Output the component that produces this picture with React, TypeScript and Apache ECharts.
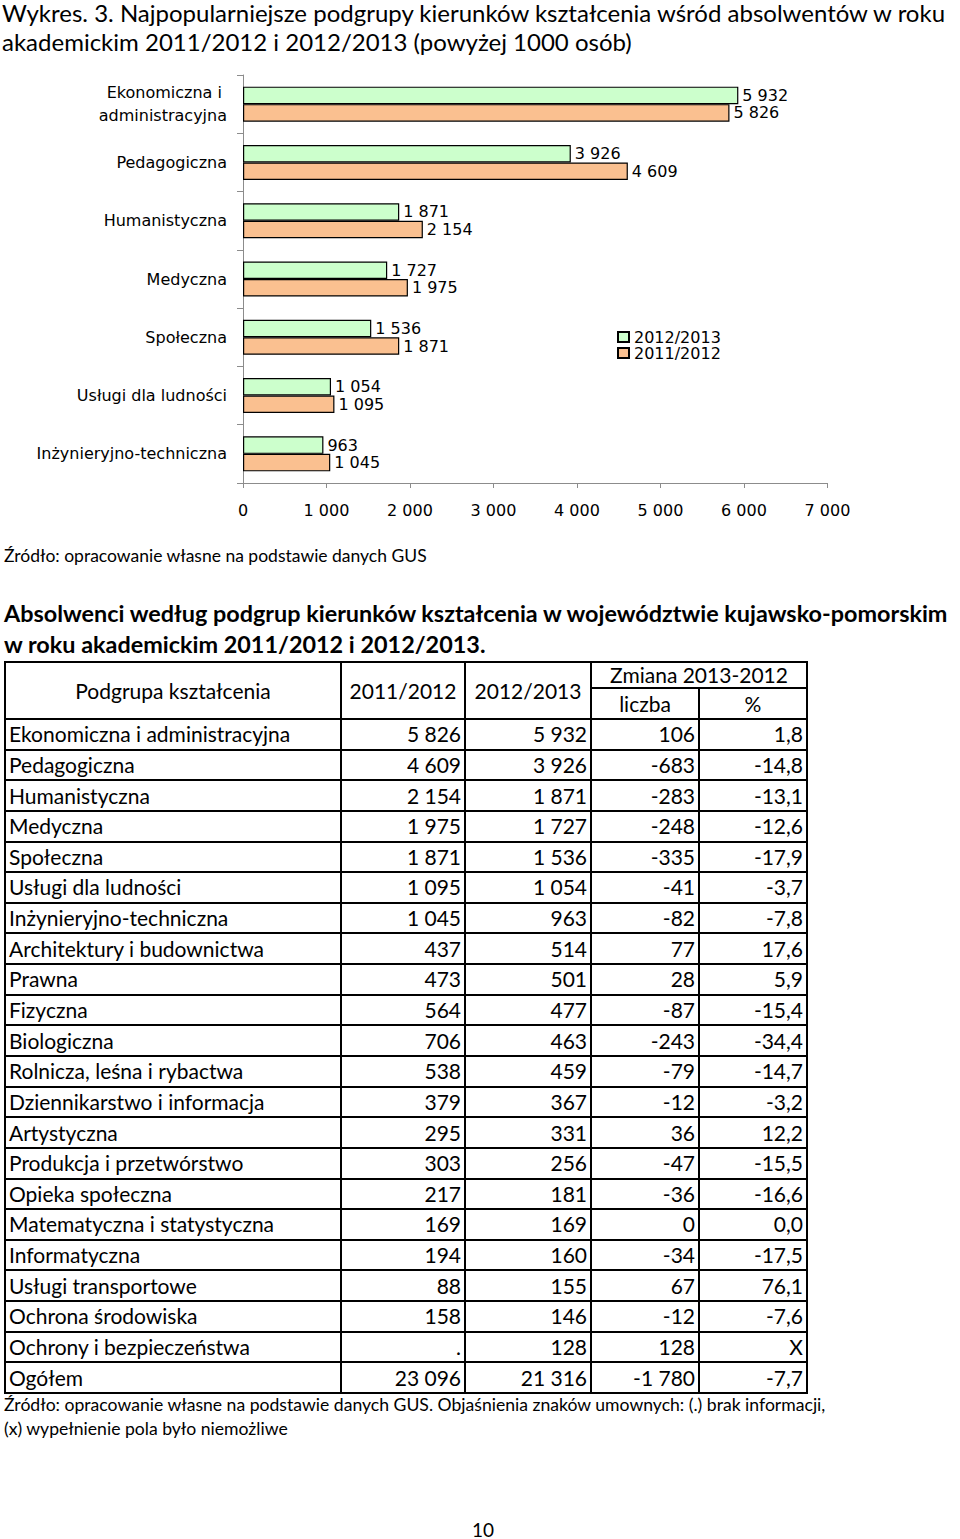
import React, { useEffect, useRef } from "react";
import * as echarts from "echarts";

// ---- chart data ----
const chartCategories = [
  "Ekonomiczna i administracyjna",
  "Pedagogiczna",
  "Humanistyczna",
  "Medyczna",
  "Społeczna",
  "Usługi dla ludności",
  "Inżynieryjno-techniczna",
];
const values2012_2013 = [5932, 3926, 1871, 1727, 1536, 1054, 963];
const values2011_2012 = [5826, 4609, 2154, 1975, 1871, 1095, 1045];
const seriesNames = ["2012/2013", "2011/2012"];
const xTicks = [0, 1000, 2000, 3000, 4000, 5000, 6000, 7000];

// ---- table data ----
const tableGroups = [
  "Ekonomiczna i administracyjna",
  "Pedagogiczna",
  "Humanistyczna",
  "Medyczna",
  "Społeczna",
  "Usługi dla ludności",
  "Inżynieryjno-techniczna",
  "Architektury i budownictwa",
  "Prawna",
  "Fizyczna",
  "Biologiczna",
  "Rolnicza, leśna i rybactwa",
  "Dziennikarstwo i informacja",
  "Artystyczna",
  "Produkcja i przetwórstwo",
  "Opieka społeczna",
  "Matematyczna i statystyczna",
  "Informatyczna",
  "Usługi transportowe",
  "Ochrona środowiska",
  "Ochrony i bezpieczeństwa",
  "Ogółem",
];
const table2011_2012 = ["5 826", "4 609", "2 154", "1 975", "1 871", "1 095", "1 045", "437", "473", "564", "706", "538", "379", "295", "303", "217", "169", "194", "88", "158", ".", "23 096"];
const table2012_2013 = ["5 932", "3 926", "1 871", "1 727", "1 536", "1 054", "963", "514", "501", "477", "463", "459", "367", "331", "256", "181", "169", "160", "155", "146", "128", "21 316"];
const tableChange = ["106", "-683", "-283", "-248", "-335", "-41", "-82", "77", "28", "-87", "-243", "-79", "-12", "36", "-47", "-36", "0", "-34", "67", "-12", "128", "-1 780"];
const tablePct = ["1,8", "-14,8", "-13,1", "-12,6", "-17,9", "-3,7", "-7,8", "17,6", "5,9", "-15,4", "-34,4", "-14,7", "-3,2", "12,2", "-15,5", "-16,6", "0,0", "-17,5", "76,1", "-7,6", "X", "-7,7"];

const fmt = (v: number) => String(v).replace(/\B(?=(\d{3})+(?!\d))/g, " ");

const CHART_FONT = "'DejaVu Sans', Verdana, sans-serif";
const TEXT_FONT = "Lato, 'Noto Sans', sans-serif";

function Chart() {
  const ref = useRef<HTMLDivElement>(null);
  useEffect(() => {
    if (!ref.current) return;
    const chart = echarts.init(ref.current, undefined, { renderer: "svg" });
    const labelStyle = {
      show: true,
      position: "right" as const,
      distance: 4,
      color: "#000",
      fontFamily: CHART_FONT,
      fontSize: 16,
      formatter: (p: any) => fmt(p.value),
    };
    chart.setOption({
      animation: false,
      backgroundColor: "#fff",
      grid: {
        left: 243,
        top: 15,
        width: 584.5,
        height: 408,
        containLabel: false,
        outerBoundsMode: "none",
      },
      legend: {
        orient: "vertical",
        left: 612,
        top: 264,
        itemWidth: 11,
        itemHeight: 10,
        itemGap: 0,
        icon: "rect",
        data: seriesNames,
        textStyle: { color: "#000", fontFamily: CHART_FONT, fontSize: 16 },
      },
      xAxis: {
        type: "value",
        min: xTicks[0],
        max: xTicks[xTicks.length - 1],
        interval: 1000,
        axisLine: { show: true, lineStyle: { color: "#8c8c8c", width: 1 } },
        axisTick: { show: true, length: 5, lineStyle: { color: "#8c8c8c" } },
        splitLine: { show: false },
        axisLabel: {
          margin: 19,
          color: "#000",
          fontFamily: CHART_FONT,
          fontSize: 16,
          formatter: (v: number) => fmt(v),
        },
      },
      yAxis: {
        type: "category",
        inverse: true,
        data: chartCategories,
        axisLine: { show: true, lineStyle: { color: "#8c8c8c", width: 1 } },
        axisTick: { show: true, length: 6, lineStyle: { color: "#8c8c8c" } },
        axisLabel: {
          margin: 16,
          color: "#000",
          fontFamily: CHART_FONT,
          fontSize: 16,
          lineHeight: 23,
          width: 220,
          overflow: "break",
          align: "right",
        },
      },
      series: [
        {
          name: seriesNames[0],
          type: "bar",
          data: values2012_2013,
          barCategoryGap: "40%",
          barGap: "0%",
          itemStyle: { color: "#CCFFCC", borderColor: "#000", borderWidth: 1.2 },
          label: labelStyle,
        },
        {
          name: seriesNames[1],
          type: "bar",
          data: values2011_2012,
          barCategoryGap: "40%",
          barGap: "0%",
          itemStyle: { color: "#FAC090", borderColor: "#000", borderWidth: 1.2 },
          label: labelStyle,
        },
      ],
    });
    return () => chart.dispose();
  }, []);
  return <div ref={ref} style={{ position: "absolute", left: 0, top: 60, width: 960, height: 480 }} />;
}

const colX = [4, 340, 464, 590, 698, 806];
const HEADER_TOP = 661;
const HEADER_MID = 687;
const BODY_TOP = 718;
const ROW_H = (1392 - 718) / 22;

function Cell(props: { x0: number; x1: number; y0: number; y1: number; align: "left" | "right" | "center"; text: string }) {
  const { x0, x1, y0, y1, align, text } = props;
  return (
    <div
      style={{
        position: "absolute",
        left: x0,
        top: y0,
        width: x1 - x0,
        height: y1 - y0,
        borderLeft: "2px solid #000",
        borderTop: "2px solid #000",
        boxSizing: "border-box",
        display: "flex",
        alignItems: "center",
        justifyContent: align === "left" ? "flex-start" : align === "right" ? "flex-end" : "center",
        padding: align === "left" ? "0 0 0 3px" : align === "right" ? "0 3px 0 0" : 0,
        fontFamily: TEXT_FONT,
        fontSize: 21,
        lineHeight: "26px",
        color: "#000",
        whiteSpace: "nowrap",
      }}
    >
      {text}
    </div>
  );
}

function DataTable() {
  const cells: React.ReactNode[] = [];
  cells.push(<Cell key="h0" x0={colX[0]} x1={colX[1]} y0={HEADER_TOP} y1={BODY_TOP} align="center" text="Podgrupa kształcenia" />);
  cells.push(<Cell key="h1" x0={colX[1]} x1={colX[2]} y0={HEADER_TOP} y1={BODY_TOP} align="center" text="2011/2012" />);
  cells.push(<Cell key="h2" x0={colX[2]} x1={colX[3]} y0={HEADER_TOP} y1={BODY_TOP} align="center" text="2012/2013" />);
  cells.push(<Cell key="h3" x0={colX[3]} x1={colX[5]} y0={HEADER_TOP} y1={HEADER_MID} align="center" text="Zmiana 2013-2012" />);
  cells.push(<Cell key="h4" x0={colX[3]} x1={colX[4]} y0={HEADER_MID} y1={BODY_TOP} align="center" text="liczba" />);
  cells.push(<Cell key="h5" x0={colX[4]} x1={colX[5]} y0={HEADER_MID} y1={BODY_TOP} align="center" text="%" />);
  tableGroups.forEach((g, i) => {
    const y0 = BODY_TOP + i * ROW_H;
    const y1 = BODY_TOP + (i + 1) * ROW_H;
    const vals = [g, table2011_2012[i], table2012_2013[i], tableChange[i], tablePct[i]];
    vals.forEach((v, c) => {
      cells.push(
        <Cell key={`r${i}c${c}`} x0={colX[c]} x1={colX[c + 1]} y0={y0} y1={y1} align={c === 0 ? "left" : "right"} text={v} />
      );
    });
  });
  const bottom = BODY_TOP + tableGroups.length * ROW_H;
  cells.push(
    <div key="rb" style={{ position: "absolute", left: colX[5], top: HEADER_TOP, width: 2, height: bottom - HEADER_TOP + 2, background: "#000" }} />
  );
  cells.push(
    <div key="bb" style={{ position: "absolute", left: colX[0], top: bottom, width: colX[5] - colX[0] + 2, height: 2, background: "#000" }} />
  );
  return <>{cells}</>;
}

const textStyle = (centerY: number, size: number, bold = false, left = 2): React.CSSProperties => ({
  position: "absolute",
  left,
  top: centerY - size * 0.75,
  height: size * 1.5,
  fontFamily: TEXT_FONT,
  fontSize: size,
  fontWeight: bold ? 700 : 400,
  color: "#000",
  whiteSpace: "nowrap",
  lineHeight: `${size * 1.5}px`,
});

export default function App() {
  useEffect(() => {
    document.body.style.margin = "0";
  }, []);
  return (
    <div style={{ position: "absolute", left: 0, top: 0, width: 960, height: 1539, background: "#fff" }}>
      <div style={textStyle(13, 24)}>
        Wykres. 3. Najpopularniejsze podgrupy kierunków kształcenia wśród absolwentów w roku
      </div>
      <div style={textStyle(42, 24)}>akademickim 2011/2012 i 2012/2013 (powyżej 1000 osób)</div>
      <Chart />
      <div style={textStyle(556, 17.5, false, 4)}>Źródło: opracowanie własne na podstawie danych GUS</div>
      <div style={textStyle(614, 23.4, true, 4)}>
        Absolwenci według podgrup kierunków kształcenia w województwie kujawsko-pomorskim
      </div>
      <div style={textStyle(645, 23.4, true, 4)}>w roku akademickim 2011/2012 i 2012/2013.</div>
      <DataTable />
      <div style={textStyle(1405, 17.6, false, 4)}>
        Źródło: opracowanie własne na podstawie danych GUS. Objaśnienia znaków umownych: (.) brak informacji,
      </div>
      <div style={textStyle(1429, 17.6, false, 4)}>(x) wypełnienie pola było niemożliwe</div>
      <div style={textStyle(1530, 19, false, 472)}>10</div>
    </div>
  );
}
